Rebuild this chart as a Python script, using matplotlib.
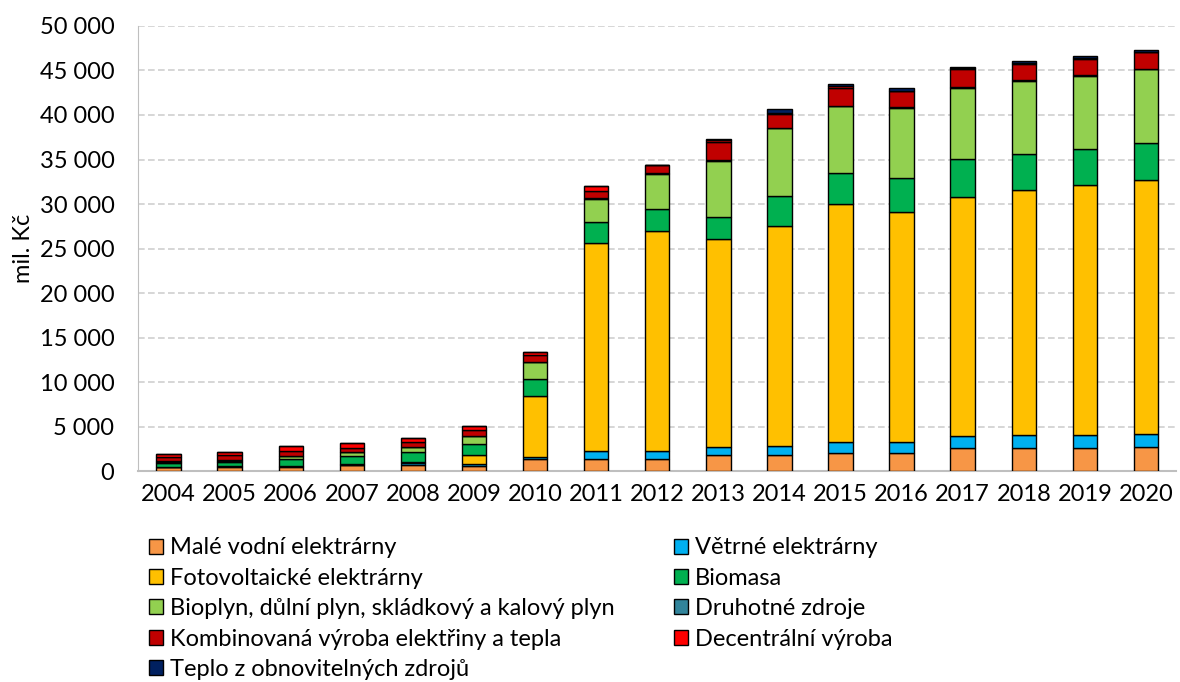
import numpy as np
import matplotlib
matplotlib.use("Agg")
import matplotlib.pyplot as plt
from matplotlib.ticker import FuncFormatter

plt.rcParams['font.family'] = ['Lato', 'DejaVu Sans']

# Data (mil. Kč)
years = [str(y) for y in range(2004, 2021)]

male_vodni = [500, 520, 520, 690, 660, 540, 1370, 1420, 1420, 1870, 1870, 2020, 2020, 2580, 2580, 2580, 2770]
vetrne = [30, 30, 50, 60, 300, 300, 260, 800, 830, 900, 1010, 1240, 1240, 1350, 1460, 1460, 1460]
fotovoltaicke = [0, 0, 30, 30, 60, 980, 6820, 23450, 24720, 23300, 24650, 26700, 25840, 26890, 27500, 28090, 28470]
biomasa = [450, 530, 770, 920, 1150, 1270, 1860, 2290, 2430, 2470, 3330, 3490, 3780, 4240, 4040, 4050, 4200]
bioplyn = [50, 100, 290, 410, 530, 860, 1910, 2620, 4000, 6330, 7640, 7550, 7910, 7970, 8240, 8200, 8230]
druhotne = [100, 120, 60, 60, 60, 60, 60, 60, 60, 60, 60, 60, 60, 60, 60, 60, 60]
kombinovana = [500, 480, 560, 480, 520, 620, 750, 800, 880, 2000, 1600, 1970, 1840, 2100, 1880, 1890, 1870]
decentralni = [260, 380, 520, 520, 490, 410, 410, 560, 60, 250, 60, 200, 30, 30, 30, 30, 30]
teplo = [0, 0, 0, 0, 0, 0, 0, 0, 0, 150, 400, 200, 350, 200, 300, 300, 200]

series = [
    ("Malé vodní elektrárny", male_vodni, "#F79646"),
    ("Větrné elektrárny", vetrne, "#00B0F0"),
    ("Fotovoltaické elektrárny", fotovoltaicke, "#FFC000"),
    ("Biomasa", biomasa, "#00B050"),
    ("Bioplyn, důlní plyn, skládkový a kalový plyn", bioplyn, "#92D050"),
    ("Druhotné zdroje", druhotne, "#31849B"),
    ("Kombinovaná výroba elektřiny a tepla", kombinovana, "#C00000"),
    ("Decentrální výroba", decentralni, "#FF0000"),
    ("Teplo z obnovitelných zdrojů", teplo, "#002060"),
]

fig = plt.figure(figsize=(11.8, 6.82), dpi=100)
ax = fig.add_axes([0.117, 0.309, 0.880, 0.653])

x = np.arange(len(years))
bottom = np.zeros(len(years))
handles = []
for label, vals, color in series:
    b = ax.bar(x, vals, 0.4, bottom=bottom, color=color, edgecolor="black",
               linewidth=1.0, label=label, zorder=3)
    handles.append(b)
    bottom += np.array(vals)

ax.set_xlim(-0.5, len(years) - 0.5)
ax.set_ylim(0, 50000)
ax.set_yticks(np.arange(0, 50001, 5000))
ax.yaxis.set_major_formatter(FuncFormatter(lambda v, p: f"{int(v):,}".replace(",", " ")))
ax.set_xticks(x)
ax.set_xticklabels(years)
ax.tick_params(axis="both", length=0, labelsize=17, colors="black")
ax.tick_params(axis="y", pad=17)
ax.tick_params(axis="x", pad=9)
ax.set_ylabel("mil. Kč", fontsize=17, labelpad=4)

ax.grid(axis="y", color="#D0D0D0", linestyle=(0, (4, 2)), linewidth=1.2, zorder=0)
for side in ["top", "right"]:
    ax.spines[side].set_visible(False)
ax.spines["left"].set_color("#BFBFBF")
ax.spines["bottom"].set_color("#BFBFBF")
ax.spines["bottom"].set_linewidth(1.5)

# row-major legend order for two columns
order = [0, 2, 4, 6, 8, 1, 3, 5, 7]
fig.legend([handles[i] for i in order], [series[i][0] for i in order],
           loc="upper left", bbox_to_anchor=(0.126, 0.212), ncol=2,
           frameon=False, fontsize=17, handlelength=0.6, handleheight=0.6,
           handletextpad=0.3, labelspacing=0.4, columnspacing=2.5,
           borderaxespad=0, borderpad=0)

fig.savefig("out.png", dpi=100)
